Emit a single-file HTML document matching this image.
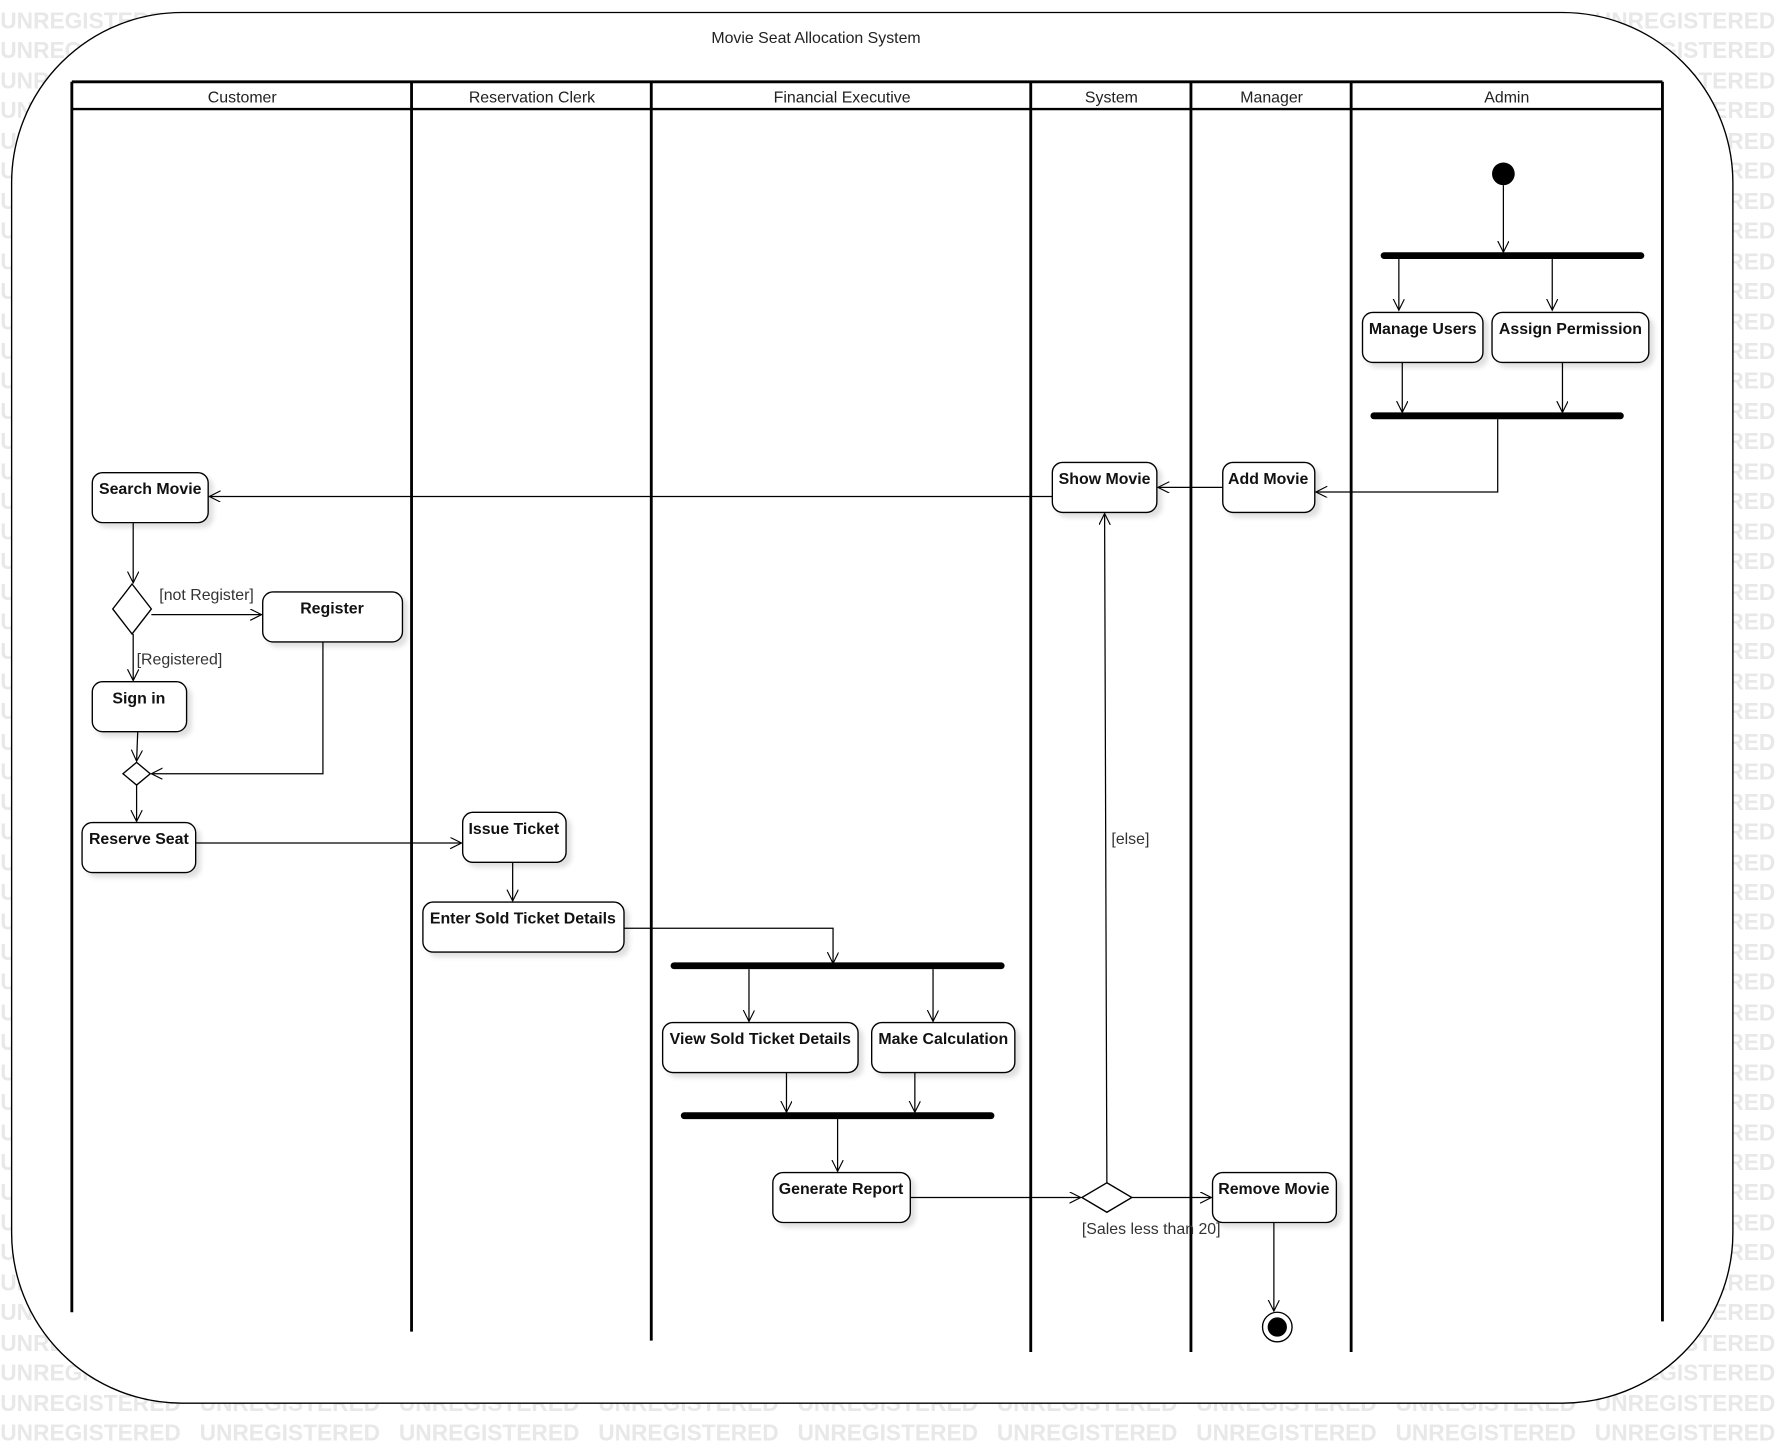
<!DOCTYPE html>
<html><head><meta charset="utf-8"><style>
html,body{margin:0;padding:0;background:#fff;}
svg{display:block;}
text{font-family:"Liberation Sans",sans-serif;}
</style></head><body>
<svg width="1782" height="1452" viewBox="0 0 1568 1278" xmlns="http://www.w3.org/2000/svg">
<defs>
<marker id="a" markerWidth="12" markerHeight="12" refX="10" refY="5" orient="auto" markerUnits="userSpaceOnUse">
<path d="M0,0 L10,5 L0,10" fill="none" stroke="#000" stroke-width="1"/></marker>
<filter id="s" x="-10%" y="-10%" width="130%" height="140%"><feDropShadow dx="4" dy="4" stdDeviation="2" flood-color="#000" flood-opacity="0.12"/></filter>
</defs>
<g fill="#e8e8e8" font-size="20" font-weight="bold" word-spacing="11">
<text x="0" y="25">UNREGISTERED UNREGISTERED UNREGISTERED UNREGISTERED UNREGISTERED UNREGISTERED UNREGISTERED UNREGISTERED UNREGISTERED UNREGISTERED</text>
<text x="0" y="51">UNREGISTERED UNREGISTERED UNREGISTERED UNREGISTERED UNREGISTERED UNREGISTERED UNREGISTERED UNREGISTERED UNREGISTERED UNREGISTERED</text>
<text x="0" y="78">UNREGISTERED UNREGISTERED UNREGISTERED UNREGISTERED UNREGISTERED UNREGISTERED UNREGISTERED UNREGISTERED UNREGISTERED UNREGISTERED</text>
<text x="0" y="104">UNREGISTERED UNREGISTERED UNREGISTERED UNREGISTERED UNREGISTERED UNREGISTERED UNREGISTERED UNREGISTERED UNREGISTERED UNREGISTERED</text>
<text x="0" y="131">UNREGISTERED UNREGISTERED UNREGISTERED UNREGISTERED UNREGISTERED UNREGISTERED UNREGISTERED UNREGISTERED UNREGISTERED UNREGISTERED</text>
<text x="0" y="157">UNREGISTERED UNREGISTERED UNREGISTERED UNREGISTERED UNREGISTERED UNREGISTERED UNREGISTERED UNREGISTERED UNREGISTERED UNREGISTERED</text>
<text x="0" y="184">UNREGISTERED UNREGISTERED UNREGISTERED UNREGISTERED UNREGISTERED UNREGISTERED UNREGISTERED UNREGISTERED UNREGISTERED UNREGISTERED</text>
<text x="0" y="210">UNREGISTERED UNREGISTERED UNREGISTERED UNREGISTERED UNREGISTERED UNREGISTERED UNREGISTERED UNREGISTERED UNREGISTERED UNREGISTERED</text>
<text x="0" y="237">UNREGISTERED UNREGISTERED UNREGISTERED UNREGISTERED UNREGISTERED UNREGISTERED UNREGISTERED UNREGISTERED UNREGISTERED UNREGISTERED</text>
<text x="0" y="263">UNREGISTERED UNREGISTERED UNREGISTERED UNREGISTERED UNREGISTERED UNREGISTERED UNREGISTERED UNREGISTERED UNREGISTERED UNREGISTERED</text>
<text x="0" y="290">UNREGISTERED UNREGISTERED UNREGISTERED UNREGISTERED UNREGISTERED UNREGISTERED UNREGISTERED UNREGISTERED UNREGISTERED UNREGISTERED</text>
<text x="0" y="316">UNREGISTERED UNREGISTERED UNREGISTERED UNREGISTERED UNREGISTERED UNREGISTERED UNREGISTERED UNREGISTERED UNREGISTERED UNREGISTERED</text>
<text x="0" y="342">UNREGISTERED UNREGISTERED UNREGISTERED UNREGISTERED UNREGISTERED UNREGISTERED UNREGISTERED UNREGISTERED UNREGISTERED UNREGISTERED</text>
<text x="0" y="369">UNREGISTERED UNREGISTERED UNREGISTERED UNREGISTERED UNREGISTERED UNREGISTERED UNREGISTERED UNREGISTERED UNREGISTERED UNREGISTERED</text>
<text x="0" y="395">UNREGISTERED UNREGISTERED UNREGISTERED UNREGISTERED UNREGISTERED UNREGISTERED UNREGISTERED UNREGISTERED UNREGISTERED UNREGISTERED</text>
<text x="0" y="422">UNREGISTERED UNREGISTERED UNREGISTERED UNREGISTERED UNREGISTERED UNREGISTERED UNREGISTERED UNREGISTERED UNREGISTERED UNREGISTERED</text>
<text x="0" y="448">UNREGISTERED UNREGISTERED UNREGISTERED UNREGISTERED UNREGISTERED UNREGISTERED UNREGISTERED UNREGISTERED UNREGISTERED UNREGISTERED</text>
<text x="0" y="475">UNREGISTERED UNREGISTERED UNREGISTERED UNREGISTERED UNREGISTERED UNREGISTERED UNREGISTERED UNREGISTERED UNREGISTERED UNREGISTERED</text>
<text x="0" y="501">UNREGISTERED UNREGISTERED UNREGISTERED UNREGISTERED UNREGISTERED UNREGISTERED UNREGISTERED UNREGISTERED UNREGISTERED UNREGISTERED</text>
<text x="0" y="528">UNREGISTERED UNREGISTERED UNREGISTERED UNREGISTERED UNREGISTERED UNREGISTERED UNREGISTERED UNREGISTERED UNREGISTERED UNREGISTERED</text>
<text x="0" y="554">UNREGISTERED UNREGISTERED UNREGISTERED UNREGISTERED UNREGISTERED UNREGISTERED UNREGISTERED UNREGISTERED UNREGISTERED UNREGISTERED</text>
<text x="0" y="580">UNREGISTERED UNREGISTERED UNREGISTERED UNREGISTERED UNREGISTERED UNREGISTERED UNREGISTERED UNREGISTERED UNREGISTERED UNREGISTERED</text>
<text x="0" y="607">UNREGISTERED UNREGISTERED UNREGISTERED UNREGISTERED UNREGISTERED UNREGISTERED UNREGISTERED UNREGISTERED UNREGISTERED UNREGISTERED</text>
<text x="0" y="633">UNREGISTERED UNREGISTERED UNREGISTERED UNREGISTERED UNREGISTERED UNREGISTERED UNREGISTERED UNREGISTERED UNREGISTERED UNREGISTERED</text>
<text x="0" y="660">UNREGISTERED UNREGISTERED UNREGISTERED UNREGISTERED UNREGISTERED UNREGISTERED UNREGISTERED UNREGISTERED UNREGISTERED UNREGISTERED</text>
<text x="0" y="686">UNREGISTERED UNREGISTERED UNREGISTERED UNREGISTERED UNREGISTERED UNREGISTERED UNREGISTERED UNREGISTERED UNREGISTERED UNREGISTERED</text>
<text x="0" y="713">UNREGISTERED UNREGISTERED UNREGISTERED UNREGISTERED UNREGISTERED UNREGISTERED UNREGISTERED UNREGISTERED UNREGISTERED UNREGISTERED</text>
<text x="0" y="739">UNREGISTERED UNREGISTERED UNREGISTERED UNREGISTERED UNREGISTERED UNREGISTERED UNREGISTERED UNREGISTERED UNREGISTERED UNREGISTERED</text>
<text x="0" y="766">UNREGISTERED UNREGISTERED UNREGISTERED UNREGISTERED UNREGISTERED UNREGISTERED UNREGISTERED UNREGISTERED UNREGISTERED UNREGISTERED</text>
<text x="0" y="792">UNREGISTERED UNREGISTERED UNREGISTERED UNREGISTERED UNREGISTERED UNREGISTERED UNREGISTERED UNREGISTERED UNREGISTERED UNREGISTERED</text>
<text x="0" y="818">UNREGISTERED UNREGISTERED UNREGISTERED UNREGISTERED UNREGISTERED UNREGISTERED UNREGISTERED UNREGISTERED UNREGISTERED UNREGISTERED</text>
<text x="0" y="845">UNREGISTERED UNREGISTERED UNREGISTERED UNREGISTERED UNREGISTERED UNREGISTERED UNREGISTERED UNREGISTERED UNREGISTERED UNREGISTERED</text>
<text x="0" y="871">UNREGISTERED UNREGISTERED UNREGISTERED UNREGISTERED UNREGISTERED UNREGISTERED UNREGISTERED UNREGISTERED UNREGISTERED UNREGISTERED</text>
<text x="0" y="898">UNREGISTERED UNREGISTERED UNREGISTERED UNREGISTERED UNREGISTERED UNREGISTERED UNREGISTERED UNREGISTERED UNREGISTERED UNREGISTERED</text>
<text x="0" y="924">UNREGISTERED UNREGISTERED UNREGISTERED UNREGISTERED UNREGISTERED UNREGISTERED UNREGISTERED UNREGISTERED UNREGISTERED UNREGISTERED</text>
<text x="0" y="951">UNREGISTERED UNREGISTERED UNREGISTERED UNREGISTERED UNREGISTERED UNREGISTERED UNREGISTERED UNREGISTERED UNREGISTERED UNREGISTERED</text>
<text x="0" y="977">UNREGISTERED UNREGISTERED UNREGISTERED UNREGISTERED UNREGISTERED UNREGISTERED UNREGISTERED UNREGISTERED UNREGISTERED UNREGISTERED</text>
<text x="0" y="1004">UNREGISTERED UNREGISTERED UNREGISTERED UNREGISTERED UNREGISTERED UNREGISTERED UNREGISTERED UNREGISTERED UNREGISTERED UNREGISTERED</text>
<text x="0" y="1030">UNREGISTERED UNREGISTERED UNREGISTERED UNREGISTERED UNREGISTERED UNREGISTERED UNREGISTERED UNREGISTERED UNREGISTERED UNREGISTERED</text>
<text x="0" y="1056">UNREGISTERED UNREGISTERED UNREGISTERED UNREGISTERED UNREGISTERED UNREGISTERED UNREGISTERED UNREGISTERED UNREGISTERED UNREGISTERED</text>
<text x="0" y="1083">UNREGISTERED UNREGISTERED UNREGISTERED UNREGISTERED UNREGISTERED UNREGISTERED UNREGISTERED UNREGISTERED UNREGISTERED UNREGISTERED</text>
<text x="0" y="1109">UNREGISTERED UNREGISTERED UNREGISTERED UNREGISTERED UNREGISTERED UNREGISTERED UNREGISTERED UNREGISTERED UNREGISTERED UNREGISTERED</text>
<text x="0" y="1136">UNREGISTERED UNREGISTERED UNREGISTERED UNREGISTERED UNREGISTERED UNREGISTERED UNREGISTERED UNREGISTERED UNREGISTERED UNREGISTERED</text>
<text x="0" y="1162">UNREGISTERED UNREGISTERED UNREGISTERED UNREGISTERED UNREGISTERED UNREGISTERED UNREGISTERED UNREGISTERED UNREGISTERED UNREGISTERED</text>
<text x="0" y="1189">UNREGISTERED UNREGISTERED UNREGISTERED UNREGISTERED UNREGISTERED UNREGISTERED UNREGISTERED UNREGISTERED UNREGISTERED UNREGISTERED</text>
<text x="0" y="1215">UNREGISTERED UNREGISTERED UNREGISTERED UNREGISTERED UNREGISTERED UNREGISTERED UNREGISTERED UNREGISTERED UNREGISTERED UNREGISTERED</text>
<text x="0" y="1242">UNREGISTERED UNREGISTERED UNREGISTERED UNREGISTERED UNREGISTERED UNREGISTERED UNREGISTERED UNREGISTERED UNREGISTERED UNREGISTERED</text>
<text x="0" y="1268">UNREGISTERED UNREGISTERED UNREGISTERED UNREGISTERED UNREGISTERED UNREGISTERED UNREGISTERED UNREGISTERED UNREGISTERED UNREGISTERED</text>
</g>
<rect x="10" y="11" width="1515" height="1224" rx="150" ry="150" fill="#fff" stroke="#000" stroke-width="1.2"/>
<text x="718" y="38" font-size="14" text-anchor="middle" fill="#222">Movie Seat Allocation System</text>
<g stroke="#000" stroke-width="2.5" fill="none">
<line x1="63" y1="72" x2="1463" y2="72"/>
<line x1="63" y1="96" x2="1463" y2="96" stroke-width="2"/>
<line x1="63" y1="72" x2="63" y2="1155"/>
<line x1="362" y1="72" x2="362" y2="1172"/>
<line x1="573" y1="72" x2="573" y2="1180"/>
<line x1="907" y1="72" x2="907" y2="1190"/>
<line x1="1048" y1="72" x2="1048" y2="1190"/>
<line x1="1189" y1="72" x2="1189" y2="1190"/>
<line x1="1463" y1="72" x2="1463" y2="1163"/>
</g>
<g font-size="14" text-anchor="middle" fill="#222">
<text x="213" y="90">Customer</text>
<text x="468" y="90">Reservation Clerk</text>
<text x="741" y="90">Financial Executive</text>
<text x="978" y="90">System</text>
<text x="1119" y="90">Manager</text>
<text x="1326" y="90">Admin</text>
</g>
<g fill="#fff" stroke="#000" stroke-width="1.2" filter="url(#s)">
<rect x="1199" y="275" width="106" height="44" rx="9"/>
<rect x="1313" y="275" width="138" height="44" rx="9"/>
<rect x="926" y="407" width="92" height="44" rx="9"/>
<rect x="1076" y="407" width="81" height="44" rx="9"/>
<rect x="81" y="416" width="102" height="44" rx="9"/>
<rect x="231" y="521" width="123" height="44" rx="9"/>
<rect x="81" y="600" width="83" height="44" rx="9"/>
<rect x="72" y="724" width="100" height="44" rx="9"/>
<rect x="407" y="715" width="91" height="44" rx="9"/>
<rect x="372" y="794" width="177" height="44" rx="9"/>
<rect x="583" y="900" width="172" height="44" rx="9"/>
<rect x="767" y="900" width="126" height="44" rx="9"/>
<rect x="680" y="1032" width="121" height="44" rx="9"/>
<rect x="1067" y="1032" width="109" height="44" rx="9"/>
</g>
<g font-size="14" font-weight="bold" text-anchor="middle" fill="#111">
<text x="1252" y="294">Manage Users</text>
<text x="1382" y="294">Assign Permission</text>
<text x="972" y="426">Show Movie</text>
<text x="1116" y="426">Add Movie</text>
<text x="132" y="435">Search Movie</text>
<text x="292" y="540">Register</text>
<text x="122" y="619">Sign in</text>
<text x="122" y="743">Reserve Seat</text>
<text x="452" y="734">Issue Ticket</text>
<text x="460" y="813">Enter Sold Ticket Details</text>
<text x="669" y="919">View Sold Ticket Details</text>
<text x="830" y="919">Make Calculation</text>
<text x="740" y="1051">Generate Report</text>
<text x="1121" y="1051">Remove Movie</text>
</g>
<g stroke="#000" stroke-width="6" stroke-linecap="round">
<line x1="1218" y1="225" x2="1444" y2="225"/>
<line x1="1209" y1="366" x2="1426" y2="366"/>
<line x1="593" y1="850" x2="881" y2="850"/>
<line x1="602" y1="982" x2="872" y2="982"/>
</g>
<circle cx="1323" cy="153" r="10" fill="#000"/>
<circle cx="1124" cy="1168" r="13" fill="#fff" stroke="#000" stroke-width="1.2"/>
<circle cx="1124" cy="1168" r="8.5" fill="#000"/>
<g fill="#fff" stroke="#000" stroke-width="1.2">
<polygon points="116,514 133,536 116,558 99,536"/>
<polygon points="120,671 132,681 120,691 108,681"/>
<polygon points="974,1041 996,1054 974,1067 952,1054"/>
</g>
<g stroke="#000" stroke-width="1.1" fill="none" marker-end="url(#a)">
<path d="M1323,163 L1323,222"/>
<path d="M1231,228 L1231,273"/>
<path d="M1366,228 L1366,273"/>
<path d="M1234,319 L1234,363"/>
<path d="M1375,319 L1375,363"/>
<path d="M1318,369 L1318,433 L1158,433"/>
<path d="M1076,429 L1019,429"/>
<path d="M926,437 L184,437"/>
<path d="M117,460 L117,513"/>
<path d="M133,541 L230,541"/>
<path d="M117,558 L117,599"/>
<path d="M121,644 L120,670"/>
<path d="M284,565 L284,681 L133,681"/>
<path d="M120,691 L120,723"/>
<path d="M172,742 L406,742"/>
<path d="M451,759 L451,793"/>
<path d="M549,817 L733,817 L733,848"/>
<path d="M659,853 L659,899"/>
<path d="M821,853 L821,899"/>
<path d="M692,944 L692,979"/>
<path d="M805,944 L805,979"/>
<path d="M737,985 L737,1031"/>
<path d="M801,1054 L951,1054"/>
<path d="M996,1054 L1066,1054"/>
<path d="M974,1041 L972,452"/>
<path d="M1121,1076 L1121,1154"/>
</g>
<g font-size="14" fill="#333">
<text x="140" y="528">[not Register]</text>
<text x="120" y="585">[Registered]</text>
<text x="978" y="743">[else]</text>
<text x="952" y="1086">[Sales less than 20]</text>
</g>
</svg>
</body></html>
